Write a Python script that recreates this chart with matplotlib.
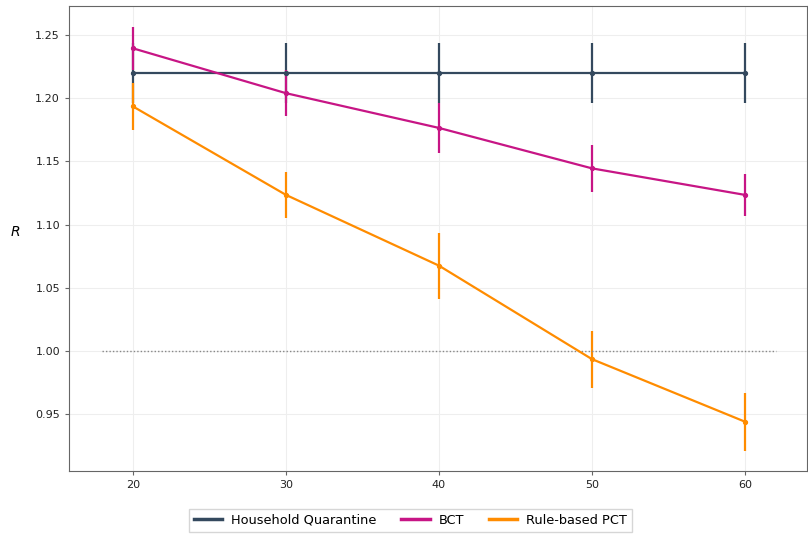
import matplotlib
matplotlib.use("Agg")
import matplotlib.pyplot as plt
from matplotlib.lines import Line2D

x = [20, 30, 40, 50, 60]
hq = [1.220, 1.220, 1.220, 1.220, 1.220]
hq_err = [0.024, 0.024, 0.024, 0.024, 0.024]
bct = [1.2395, 1.204, 1.1765, 1.1445, 1.1235]
bct_err = [0.017, 0.018, 0.0195, 0.0185, 0.0165]
pct = [1.1935, 1.1235, 1.0675, 0.9935, 0.944]
pct_err = [0.0185, 0.018, 0.026, 0.0225, 0.023]
labels = ["Household Quarantine", "BCT", "Rule-based PCT"]
colors = ["#34495e", "#c71585", "#ff8c00"]

fig = plt.figure(figsize=(8.08, 5.35), dpi=100)
ax = fig.add_axes([69/808, 1-471/535, (807-69)/808, (471-6)/535])

for y, e, lab, c in zip([hq, bct, pct], [hq_err, bct_err, pct_err], labels, colors):
    ax.errorbar(x, y, yerr=e, color=c, lw=1.6, elinewidth=1.6, marker='o', ms=2.8, capsize=0)

ax.plot([18, 62], [1.0, 1.0], ls=(0, (1, 1.5)), color='#888888', lw=1)

ax.set_xlim(15.82, 64.05)
ax.set_ylim(0.905, 1.273)
ax.set_xticks(x)
ax.set_yticks([0.95, 1.00, 1.05, 1.10, 1.15, 1.20, 1.25])
ax.set_yticklabels(["0.95", "1.00", "1.05", "1.10", "1.15", "1.20", "1.25"])
ax.grid(True, color='#eeeeee', lw=0.8)
ax.set_axisbelow(True)
for s in ax.spines.values():
    s.set_color('#666666')
ax.tick_params(labelsize=8, length=3, colors='#666666', labelcolor='#222222')
ax.set_ylabel("R", rotation=0, fontstyle='italic', fontsize=10, va='center')
ax.yaxis.set_label_coords(-0.073, 0.514)

handles = [Line2D([], [], color=c, lw=2.5) for c in colors]
leg = ax.legend(handles, labels, loc='upper center', bbox_to_anchor=((410.5-69)/738, -0.067), ncol=3,
                fontsize=9.3, frameon=True, handlelength=2.2, handletextpad=0.7, columnspacing=1.9,
                fancybox=False, edgecolor='#cccccc')

fig.savefig("out.png", dpi=100)
